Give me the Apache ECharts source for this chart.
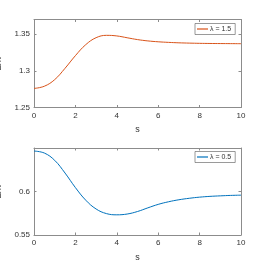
<!DOCTYPE html>
<html><head><meta charset="utf-8">
<script src="https://cdn.jsdelivr.net/npm/echarts@6/dist/echarts.min.js"></script>
<style>html,body{margin:0;padding:0;background:#fff}#c{width:267px;height:267px}</style>
</head><body><div id="c"></div>
<script>
const sValues = [0,0.5,1,1.5,2,2.5,3,3.5,4,4.5,5,5.5,6,6.5,7,7.5,8,8.5,9,9.5,10];
const lambda15 = [1.276,1.2790,1.2880,1.3035,1.3207,1.3357,1.3452,1.3484,1.3476,1.3451,1.3426,1.3408,1.3396,1.3388,1.3382,1.3378,1.3375,1.3373,1.3372,1.3371,1.3370];
const lambda05 = [0.6465,0.6442,0.6358,0.6212,0.6045,0.5900,0.5799,0.5746,0.5732,0.5741,0.5770,0.5812,0.5852,0.5882,0.5905,0.5922,0.5935,0.5944,0.5950,0.5955,0.5958];
const seriesNames = ['λ = 1.5','λ = 0.5'];

const font = 'Liberation Sans, Arial, sans-serif';
const axisCol = '#8c8c8c';
const textCol = '#333';
function xAx(grid, pos, main){
  return {type:'value', gridIndex:grid, position:pos, min:0, max:10, interval:2,
    name: main ? 's' : '', nameLocation:'middle', nameGap:18,
    nameTextStyle:{fontFamily:font, fontSize:9, color:textCol},
    axisLine:{show:true, onZero:false, lineStyle:{color:axisCol, width:1}},
    axisTick:{show:true, inside:true, length:2.5, lineStyle:{color:axisCol}},
    axisLabel:{show:main, fontFamily:font, fontSize:8, color:textCol, margin:4},
    splitLine:{show:false}};
}
function yAx(grid, pos, main, min, max){
  return {type:'value', gridIndex:grid, position:pos, min:min, max:max, interval:0.05,
    name: main ? 'E/π' : '', nameLocation:'middle', nameGap:25, nameRotate:90,
    nameTextStyle:{fontFamily:font, fontSize:8.5, color:textCol},
    axisLine:{show:true, onZero:false, lineStyle:{color:axisCol, width:1}},
    axisTick:{show:true, inside:true, length:2.5, lineStyle:{color:axisCol}},
    axisLabel:{show:main, fontFamily:font, fontSize:8, color:textCol, margin:4, showMaxLabel:false,
      formatter: v => String(Math.round(v*100)/100)},
    splitLine:{show:false}};
}
const chart = echarts.init(document.getElementById('c'), null, {renderer:'canvas'});
chart.setOption({
  animation:false,
  backgroundColor:'#fff',
  grid:[
    {left:34, right:26, top:19.5, height:88, containLabel:false, outerBoundsMode:'none'},
    {left:34, right:26, top:148, height:87, containLabel:false, outerBoundsMode:'none'}
  ],
  xAxis:[xAx(0,'bottom',true), xAx(0,'top',false), xAx(1,'bottom',true), xAx(1,'top',false)],
  yAxis:[yAx(0,'left',true,1.25,1.37), yAx(0,'right',false,1.25,1.37), yAx(1,'left',true,0.55,0.65), yAx(1,'right',false,0.55,0.65)],
  legend:[
    {data:[seriesNames[0]], left:195, top:23.5, orient:'vertical', itemWidth:11, itemHeight:1.2, icon:'rect',
     itemGap:0, padding:[2,4,2,2], borderColor:'#555', borderWidth:0.6, backgroundColor:'#fff',
     textStyle:{fontFamily:font, fontSize:7, color:textCol, padding:[0,0,0,-3]}},
    {data:[seriesNames[1]], left:195, top:151.5, orient:'vertical', itemWidth:11, itemHeight:1.2, icon:'rect',
     itemGap:0, padding:[2,4,2,2], borderColor:'#555', borderWidth:0.6, backgroundColor:'#fff',
     textStyle:{fontFamily:font, fontSize:7, color:textCol, padding:[0,0,0,-3]}}
  ],
  series:[
    {name:seriesNames[0], type:'line', xAxisIndex:0, yAxisIndex:0, smooth:0.4, showSymbol:false,
     data:sValues.map((s,i)=>[s,lambda15[i]]), lineStyle:{color:'#D95319', width:1}, itemStyle:{color:'#D95319'}},
    {name:seriesNames[1], type:'line', xAxisIndex:2, yAxisIndex:2, smooth:0.4, showSymbol:false,
     data:sValues.map((s,i)=>[s,lambda05[i]]), lineStyle:{color:'#0072BD', width:1}, itemStyle:{color:'#0072BD'}}
  ]
});
</script></body></html>
